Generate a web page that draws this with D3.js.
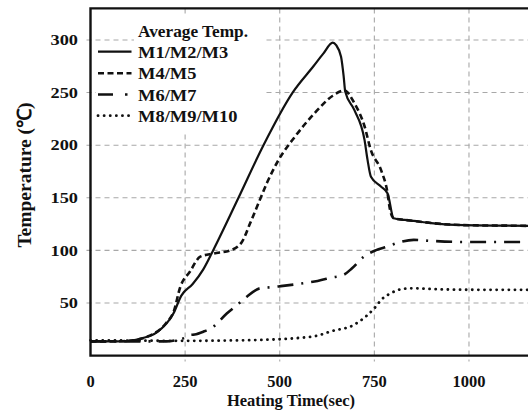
<!DOCTYPE html>
<html>
<head>
<meta charset="utf-8">
<script src="https://cdn.jsdelivr.net/npm/d3@7"></script>
<style>
  html, body { margin: 0; padding: 0; background: #fff; overflow: hidden; }
  svg { display: block; }
  text { font-family: "Liberation Serif", "Times New Roman", serif; font-weight: bold; fill: #111; }
</style>
</head>
<body>
<svg id="chart" width="528" height="416"></svg>
<script>
// ---- data ----
const xTicks = [0, 250, 500, 750, 1000];
const yTicks = [50, 100, 150, 200, 250, 300];

const seriesNames = ["M1/M2/M3", "M4/M5", "M6/M7", "M8/M9/M10"];
const legendTitle = "Average Temp.";

const m1Time = [0, 60, 96, 130, 175, 219, 240, 270, 298, 324, 391, 457, 534, 589, 615, 640, 649, 662, 669, 673, 697, 724, 732, 741, 768, 785, 801, 830, 854, 900, 986, 1100, 1250];
const m1Temp = [13.5, 13.5, 13.8, 16, 22, 40, 57, 68, 82, 100, 150, 200, 250, 275, 287, 297.5, 295, 284, 265, 251, 233.5, 205, 186, 170, 160.5, 154, 130.5, 129, 128, 126, 124, 123.5, 123];

const m45Time = [0, 60, 100, 150, 200, 220, 237, 263, 290, 325, 369, 400, 422, 444, 466, 497, 540, 591, 640, 671, 697, 724, 741, 768, 785, 790, 801, 830, 854, 900, 986, 1100, 1250];
const m45Temp = [13.5, 13.5, 14, 18, 31, 42, 65, 80, 94, 97, 100, 108, 126, 145, 164, 186, 208, 230, 247, 252, 240, 218, 195, 176, 154, 141.5, 130.5, 129, 128, 126, 124, 123.5, 123];

const m67Time = [0, 100, 200, 230, 250, 263, 275, 298, 325, 360, 387, 413, 448, 479, 503, 547, 600, 635, 670, 691, 722, 753, 783, 819, 854, 900, 986, 1100, 1250];
const m67Temp = [13.5, 13.5, 13.5, 15, 17, 19.6, 20, 22.7, 27.5, 40, 48, 56, 64, 65, 66, 68, 71, 74, 77, 83, 94, 100, 103.5, 108, 110, 109, 108, 108, 108];

const m8Time = [0, 100, 250, 350, 459, 547, 600, 635, 697, 730, 750, 771, 792, 829, 854, 900, 988, 1100, 1250];
const m8Temp = [14.5, 14.3, 14, 14.3, 15, 16.7, 19, 23, 29.4, 38, 45, 54, 59, 63.6, 64, 63.3, 62.6, 62.5, 62.5];

// ---- layout ----
const svg = d3.select("#chart");
const x = d3.scaleLinear().domain([0, 1250]).range([90.5, 563.6]);
const y = d3.scaleLinear().domain([0, 330]).range([355.6, 8.4]);

const styles = [
  { width: 2.2, dash: null, cap: "butt" },
  { width: 2.6, dash: "6,3.5", cap: "butt" },
  { width: 2.6, dash: "16,8,2,8", cap: "butt" },
  { width: 2.8, dash: "0.1,6", cap: "round" }
];

const gridColor = "#a8a8a8";

// gridlines
svg.append("g").selectAll("line").data(yTicks).join("line")
  .attr("x1", x(0) - 4).attr("x2", x(1250))
  .attr("y1", d => y(d)).attr("y2", d => y(d))
  .attr("stroke", gridColor).attr("stroke-width", 1.1).attr("stroke-dasharray", "5,4");

svg.append("g").selectAll("line").data(xTicks.filter(d => d > 0)).join("line")
  .attr("x1", d => x(d)).attr("x2", d => x(d))
  .attr("y1", y(330)).attr("y2", y(0) + 6)
  .attr("stroke", gridColor).attr("stroke-width", 1.1).attr("stroke-dasharray", "5,4");

// series
const series = [
  { t: m1Time, v: m1Temp },
  { t: m45Time, v: m45Temp },
  { t: m67Time, v: m67Temp },
  { t: m8Time, v: m8Temp }
];
const line = d3.line().x(d => x(d[0])).y(d => y(d[1])).curve(d3.curveMonotoneX);

series.slice().reverse().forEach((s, ri) => {
  const i = series.length - 1 - ri;
  const pts = s.t.map((t, k) => [t, s.v[k]]);
  svg.append("path").datum(pts)
    .attr("d", line)
    .attr("fill", "none")
    .attr("stroke", "#111")
    .attr("stroke-width", styles[i].width)
    .attr("stroke-dasharray", styles[i].dash)
    .attr("stroke-linecap", styles[i].cap)
    .attr("stroke-linejoin", "round");
});

// frame
svg.append("path")
  .attr("d", `M${x(1250)},${y(330)} L${x(0)},${y(330)} L${x(0)},${y(0)} L${x(1250)},${y(0)}`)
  .attr("fill", "none").attr("stroke", "#111").attr("stroke-width", 2.4);

// tick labels
svg.append("g").selectAll("text").data(yTicks).join("text")
  .attr("transform", d => `translate(78,${y(d) + 5.3}) scale(1.18,1)`)
  .attr("text-anchor", "end")
  .attr("font-size", 15.5)
  .text(d => d);

svg.append("g").selectAll("text").data(xTicks).join("text")
  .attr("transform", d => `translate(${x(d)},387)`)
  .attr("text-anchor", "middle")
  .attr("font-size", 16.5)
  .text(d => d);

// axis titles
svg.append("text")
  .attr("transform", "translate(291,406)")
  .attr("text-anchor", "middle")
  .attr("font-size", 16.5)
  .text("Heating Time(sec)");

svg.append("text")
  .attr("transform", "translate(31,175) rotate(-90)")
  .attr("text-anchor", "middle")
  .attr("font-size", 19.5)
  .text("Temperature (℃)");

// legend
const lg = svg.append("g");
lg.append("rect").attr("x", 96).attr("y", 44).attr("width", 168).attr("height", 88).attr("fill", "#fff");
lg.append("rect").attr("x", 134).attr("y", 14).attr("width", 130).attr("height", 31).attr("fill", "#fff");
lg.append("text")
  .attr("transform", "translate(138,36.7) scale(1.08,1)")
  .attr("font-size", 16)
  .text(legendTitle);

const lgY = [57.7, 79.3, 100.5, 121.7];
seriesNames.forEach((name, i) => {
  lg.append("line")
    .attr("x1", 98).attr("x2", 131.5)
    .attr("y1", lgY[i] - 6).attr("y2", lgY[i] - 6)
    .attr("stroke", "#111")
    .attr("stroke-width", styles[i].width)
    .attr("stroke-dasharray", i === 2 ? "15,12,2.5,12" : styles[i].dash)
    .attr("stroke-linecap", styles[i].cap);
  lg.append("text")
    .attr("transform", `translate(138,${lgY[i]}) scale(1.12,1)`)
    .attr("font-size", 16.5)
    .text(name);
});
</script>
</body>
</html>
